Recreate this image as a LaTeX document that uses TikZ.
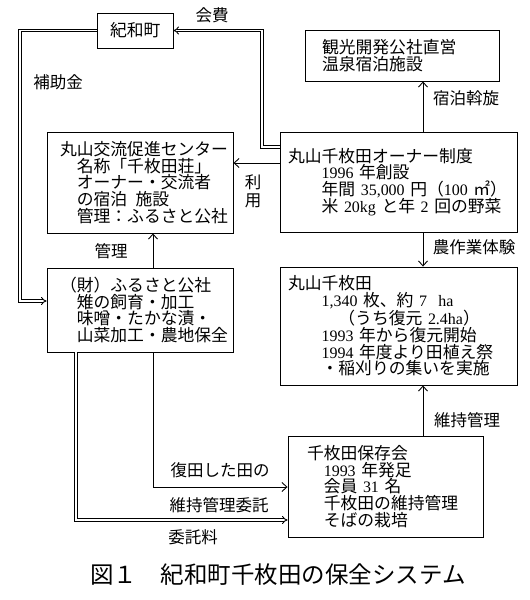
\documentclass[tikz,border=0pt]{standalone}
\usepackage{fontspec}
\setmainfont{Noto Sans CJK JP}
\newfontfamily\lat[Scale=0.95]{Liberation Serif}
\newcommand\latn[1]{{\lat #1}}
\usetikzlibrary{arrows.meta, positioning, calc}
\tikzset{
  every picture/.style={line width=0.9pt},
  box/.style={draw, align=left, inner ysep=0pt, font=\fontsize{16.8}{16.8}\selectfont},
  lbl/.style={font=\fontsize{16.5}{16.8}\selectfont, inner sep=0pt},
  arr/.style={-{Straight Barb[length=5pt, width=9pt]}},
  dbl/.style={double, double distance=1.8pt, line width=0.9pt, -{Implies[length=6pt, width=11pt]}},
}

\begin{document}
\begin{tikzpicture}[x=1pt, y=-1pt]
  \useasboundingbox (0,0) rectangle (530,600);
  % boxes
  \node[box, align=center, text width=50pt, inner xsep=13pt, minimum height=35pt] (kiwa) at (135,30.5) {紀和町};
  \node[box, text width=160pt, inner xsep=17pt, minimum height=51pt] (kanko) at (402,55.5) {観光開発公社直営\\温泉宿泊施設};
  \node[box, text width=160pt, inner xsep=13pt, minimum height=101pt] (kouryu) at (140,182.5)
    {丸山交流促進センター\\\hspace*{1em}名称「千枚田荘」\\\hspace*{1em}オーナー・交流者\\\hspace*{1em}の宿泊\hspace{0.5em}施設\\\hspace*{1em}管理：ふるさと公社};
  \node[box, text width=221pt, inner xsep=8pt, minimum height=100pt] (owner) at (398.5,182)
    {丸山千枚田オーナー制度\\\hspace*{2em}\latn{1996}~年創設\\\hspace*{2em}年間~\latn{35,000}~円（\latn{100}~㎡）\\\hspace*{2em}米~\latn{20kg}~と年~\latn{2}~回の野菜};
  \node[box, text width=160pt, inner xsep=13pt, minimum height=84pt] (furu) at (140,310)
    {（財）ふるさと公社\\\hspace*{1em}雉の飼育・加工\\\hspace*{1em}味噌・たかな漬・\\\hspace*{1em}山菜加工・農地保全};
  \node[box, text width=221pt, inner xsep=8pt, minimum height=118pt] (tanada) at (398.5,326)
    {丸山千枚田\\\hspace*{2em}\latn{1,340}~枚、約~\latn{7~~ha}\\\hspace*{3em}（うち復元~\latn{2.4ha}）\\\hspace*{2em}\latn{1993}~年から復元開始\\\hspace*{2em}\latn{1994}~年度より田植え祭\\\hspace*{2em}・稲刈りの集いを実施};
  \node[box, text width=157pt, inner xsep=19pt, minimum height=101pt] (hozon) at (385.5,486.5)
    {千枚田保存会\\\hspace*{1em}\latn{1993}~年発足\\\hspace*{1em}会員~\latn{31}~名\\\hspace*{1em}千枚田の維持管理\\\hspace*{1em}そばの栽培};

  % corners of the connectors
  \coordinate (kaihiC) at (262,147);
  \coordinate (hojoC) at (20,301);
  \coordinate (riyoC) at (250,163);
  \coordinate (midx) at (423,0);
  \coordinate (kanrix) at (153,0);
  \coordinate (fukuC) at (153,487);
  \coordinate (itakuC) at (76,520);

  % connectors
  \draw[dbl] (owner.west |- kaihiC) -- (kaihiC) |- (kiwa.east);
  \draw[dbl] (kiwa.west) -| (hojoC) -- (furu.west |- hojoC);
  \draw[arr] (owner.north -| midx) -- (kanko.south -| midx);
  \draw[arr] (owner.west |- riyoC) -- (kouryu.east |- riyoC);
  \draw[arr] (furu.north -| kanrix) -- (kouryu.south -| kanrix);
  \draw[arr] (owner.south -| midx) -- (tanada.north -| midx);
  \draw[arr] (hozon.north -| midx) -- (tanada.south -| midx);
  \draw[arr] (furu.south -| fukuC) -- (fukuC) -- (hozon.west |- fukuC);
  \draw[dbl] (furu.south -| itakuC) -- (itakuC) -- (hozon.west |- itakuC);

  % labels
  \node[lbl] (kaihi) at (212,15) {会費};
  \node[lbl] (hojo) at (58,82) {補助金};
  \node[lbl] (shuku) at (466,98) {宿泊斡旋};
  \node[lbl, align=center, font=\fontsize{16.5}{18}\selectfont] (riyo) at (253,191) {利\\用};
  \node[lbl] (kanri) at (111,251) {管理};
  \node[lbl] (nousa) at (474,247) {農作業体験};
  \node[lbl] (iji) at (467,420) {維持管理};
  \node[lbl] (fukuden) at (220,470) {復田した田の};
  \node[lbl] (itaku) at (219,505) {維持管理委託};
  \node[lbl] (itakuryo) at (193,537) {委託料};
  \node[font=\fontsize{23.5}{24}\selectfont, inner sep=0pt] (cap) at (278,575) {図１\hspace{1em}紀和町千枚田の保全システム};
\end{tikzpicture}
\end{document}
